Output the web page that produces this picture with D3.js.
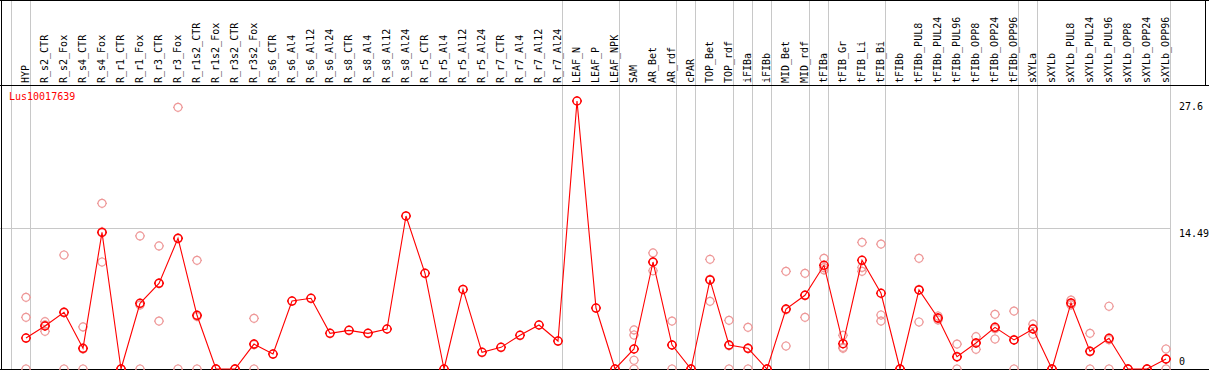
<!DOCTYPE html>
<html>
<head>
<meta charset="utf-8">
<script src="https://cdn.jsdelivr.net/npm/d3@7"></script>
<style>
  html, body { margin: 0; padding: 0; background: #fff; }
  svg { display: block; font-family: "DejaVu Sans Mono", monospace; }
</style>
</head>
<body>
<div id="chart"></div>
<script>
// Expression profile for one gene, samples on x, value on y.

const geneId = "Lus10017639";

const samples = [
  "HYP","R_s2_CTR","R_s2_Fox","R_s4_CTR","R_s4_Fox","R_r1_CTR","R_r1_Fox","R_r3_CTR","R_r3_Fox",
  "R_r1s2_CTR","R_r1s2_Fox","R_r3s2_CTR","R_r3s2_Fox","R_s6_CTR","R_s6_Al4","R_s6_Al12","R_s6_Al24",
  "R_s8_CTR","R_s8_Al4","R_s8_Al12","R_s8_Al24","R_r5_CTR","R_r5_Al4","R_r5_Al12","R_r5_Al24",
  "R_r7_CTR","R_r7_Al4","R_r7_Al12","R_r7_Al24","LEAF_N","LEAF_P","LEAF_NPK","SAM","AR_Bet","AR_rdf",
  "cPAR","TOP_Bet","TOP_rdf","iFIBa","iFIBb","MID_Bet","MID_rdf","tFIBa","tFIB_Gr","tFIB_Li","tFIB_Bi",
  "tFIBb","tFIBb_PUL8","tFIBb_PUL24","tFIBb_PUL96","tFIBb_OPP8","tFIBb_OPP24","tFIBb_OPP96",
  "sXYLa","sXYLb","sXYLb_PUL8","sXYLb_PUL24","sXYLb_PUL96","sXYLb_OPP8","sXYLb_OPP24","sXYLb_OPP96"
];

const means = [
  3.19, 4.43, 5.84, 2.13, 14.07, 0, 6.76, 8.82, 13.46,
  5.53, 0, 0, 2.57, 1.54, 7.0, 7.28, 3.67,
  3.98, 3.67, 4.12, 15.76, 9.85, 0, 8.2, 1.72,
  2.23, 3.47, 4.53, 2.88, 27.6, 6.28, 0, 2.06, 11.02, 2.47,
  0, 9.17, 2.47, 2.13, 0, 6.18, 7.59, 10.68, 2.61, 11.19, 7.8,
  0, 8.14, 5.25, 1.27, 2.68, 4.29, 2.99,
  4.12, 0, 6.8, 1.82, 3.16, 0, 0, 1.03
];

const replicates = [
  [7.38, 5.32, 0], [4.87, 3.88, 4.54], [11.74, 0, 5.8], [4.33, 0, 2.07], [17.06, 11.02, 14.13],
  [0, 0, 0], [13.7, 0, 6.58], [12.67, 4.94, 8.85], [26.95, 0, 13.43],
  [11.19, 0, 5.4], [0, 0, 0], [0, 0, 0], [5.22, 0, 2.5], [], [], [], [],
  [], [], [], [], [], [], [], [],
  [], [], [], [], [], [], [], [4.02, 3.5, 0.9, 0], [11.95, 10.12, 10.99], [4.94, 0, 2.47],
  [0, 0, 0], [11.3, 6.97, 9.24], [5.01, 0, 2.4], [4.29, 0, 2.1], [0, 0, 0], [10.06, 2.37, 6.1],
  [9.85, 5.32, 7.6], [11.4, 10.2, 10.44], [3.47, 2.23, 2.13], [13.05, 10.46, 10.06], [12.87, 5.56, 4.94],
  [0, 0, 0], [11.4, 4.84, 8.18], [5.46, 5.05, 5.24], [2.57, 0, 1.24], [3.33, 2.03, 2.68], [5.63, 3.09, 4.15], [5.97, 0, 3.0],
  [4.63, 3.57, 4.16], [0, 0, 0], [7.1, 6.7, 6.6], [3.67, 0, 1.79], [6.46, 0, 3.02], [0, 0, 0], [0, 0, 0], [2.06, 0, 1.03]
];

// index of the first sample of each tissue group (last entry closes the plot)
const groupStarts = [0, 1, 29, 32, 35, 36, 38, 39, 40, 42, 43, 46, 53, 54, 61];

const yTicks = [0, 14.49, 27.6];

const W = 1209, H = 370;
const headerBottom = 85, plotBottom = 369;

const svg = d3.select("#chart").append("svg")
  .attr("width", W).attr("height", H);

const x = d3.scaleLinear().domain([0, 1]).range([26, 45]);
const y = d3.scaleLinear().domain([0, 14.49]).range([plotBottom, 228.3]);

const grid = svg.append("g");
groupStarts.forEach(i => {
  const gx = Math.round(x(i) - 15) + 0.5;
  grid.append("line")
    .attr("x1", gx).attr("x2", gx).attr("y1", 0).attr("y2", H)
    .attr("stroke", "#c8c8c8").attr("stroke-width", 1);
});
const xEnd = Math.round(x(61) - 15) + 0.5;
grid.append("line")
  .attr("x1", 0).attr("x2", xEnd)
  .attr("y1", Math.round(y(14.49)) + 0.5).attr("y2", Math.round(y(14.49)) + 0.5)
  .attr("stroke", "#c8c8c8");

// frame
const frame = svg.append("g").attr("stroke", "#000").attr("stroke-width", 1);
frame.append("line").attr("x1", 0).attr("x2", W).attr("y1", 0.5).attr("y2", 0.5);
frame.append("line").attr("x1", 0).attr("x2", W).attr("y1", headerBottom + 0.5).attr("y2", headerBottom + 0.5);
frame.append("line").attr("x1", 1.5).attr("x2", 1.5).attr("y1", 0).attr("y2", H);
frame.append("line").attr("x1", 1205.5).attr("x2", 1205.5).attr("y1", 0).attr("y2", headerBottom);
frame.append("line").attr("x1", 0).attr("x2", W).attr("y1", plotBottom + 0.5).attr("y2", plotBottom + 0.5);

// sample labels
svg.append("g").selectAll("text")
  .data(samples)
  .join("text")
  .attr("transform", (d, i) => `translate(${x(i) + 3},83) rotate(-90)`)
  .attr("font-size", 10)
  .attr("fill", "#000")
  .text(d => d);

// y labels on the right
svg.append("g").selectAll("text")
  .data(yTicks)
  .join("text")
  .attr("x", 1179)
  .attr("y", d => d === 0 ? y(d) - 4 : y(d) + 9)
  .attr("font-size", 10)
  .attr("fill", "#000")
  .text(d => d);

svg.append("text")
  .attr("x", 9).attr("y", 100)
  .attr("font-size", 10)
  .attr("fill", "#f00")
  .text(geneId);

function marker(r) {
  return `M${-r},0a${r},${r} 0 1,0 ${2 * r},0a${r},${r} 0 1,0 ${-2 * r},0` +
    `M0,${-r - 1}v1M0,${r}v1M${-r - 1},0h1M${r},0h1`;
}

// replicates
const repPts = [];
replicates.forEach((reps, i) => reps.forEach(v => repPts.push({ i, v })));
svg.append("g").selectAll("path")
  .data(repPts)
  .join("path")
  .attr("transform", d => `translate(${x(d.i)},${y(d.v)})`)
  .attr("d", marker(4))
  .attr("fill", "none")
  .attr("stroke", "#ee9898")
  .attr("stroke-width", 1.2);

// mean line
svg.append("path")
  .datum(means)
  .attr("d", d3.line().x((d, i) => x(i)).y(d => y(d)))
  .attr("fill", "none")
  .attr("stroke", "#f00")
  .attr("stroke-width", 1.1);

svg.append("g").selectAll("path")
  .data(means)
  .join("path")
  .attr("transform", (d, i) => `translate(${x(i)},${y(d)})`)
  .attr("d", marker(4))
  .attr("fill", "none")
  .attr("stroke", "#f00")
  .attr("stroke-width", 1.5);
</script>
</body>
</html>
